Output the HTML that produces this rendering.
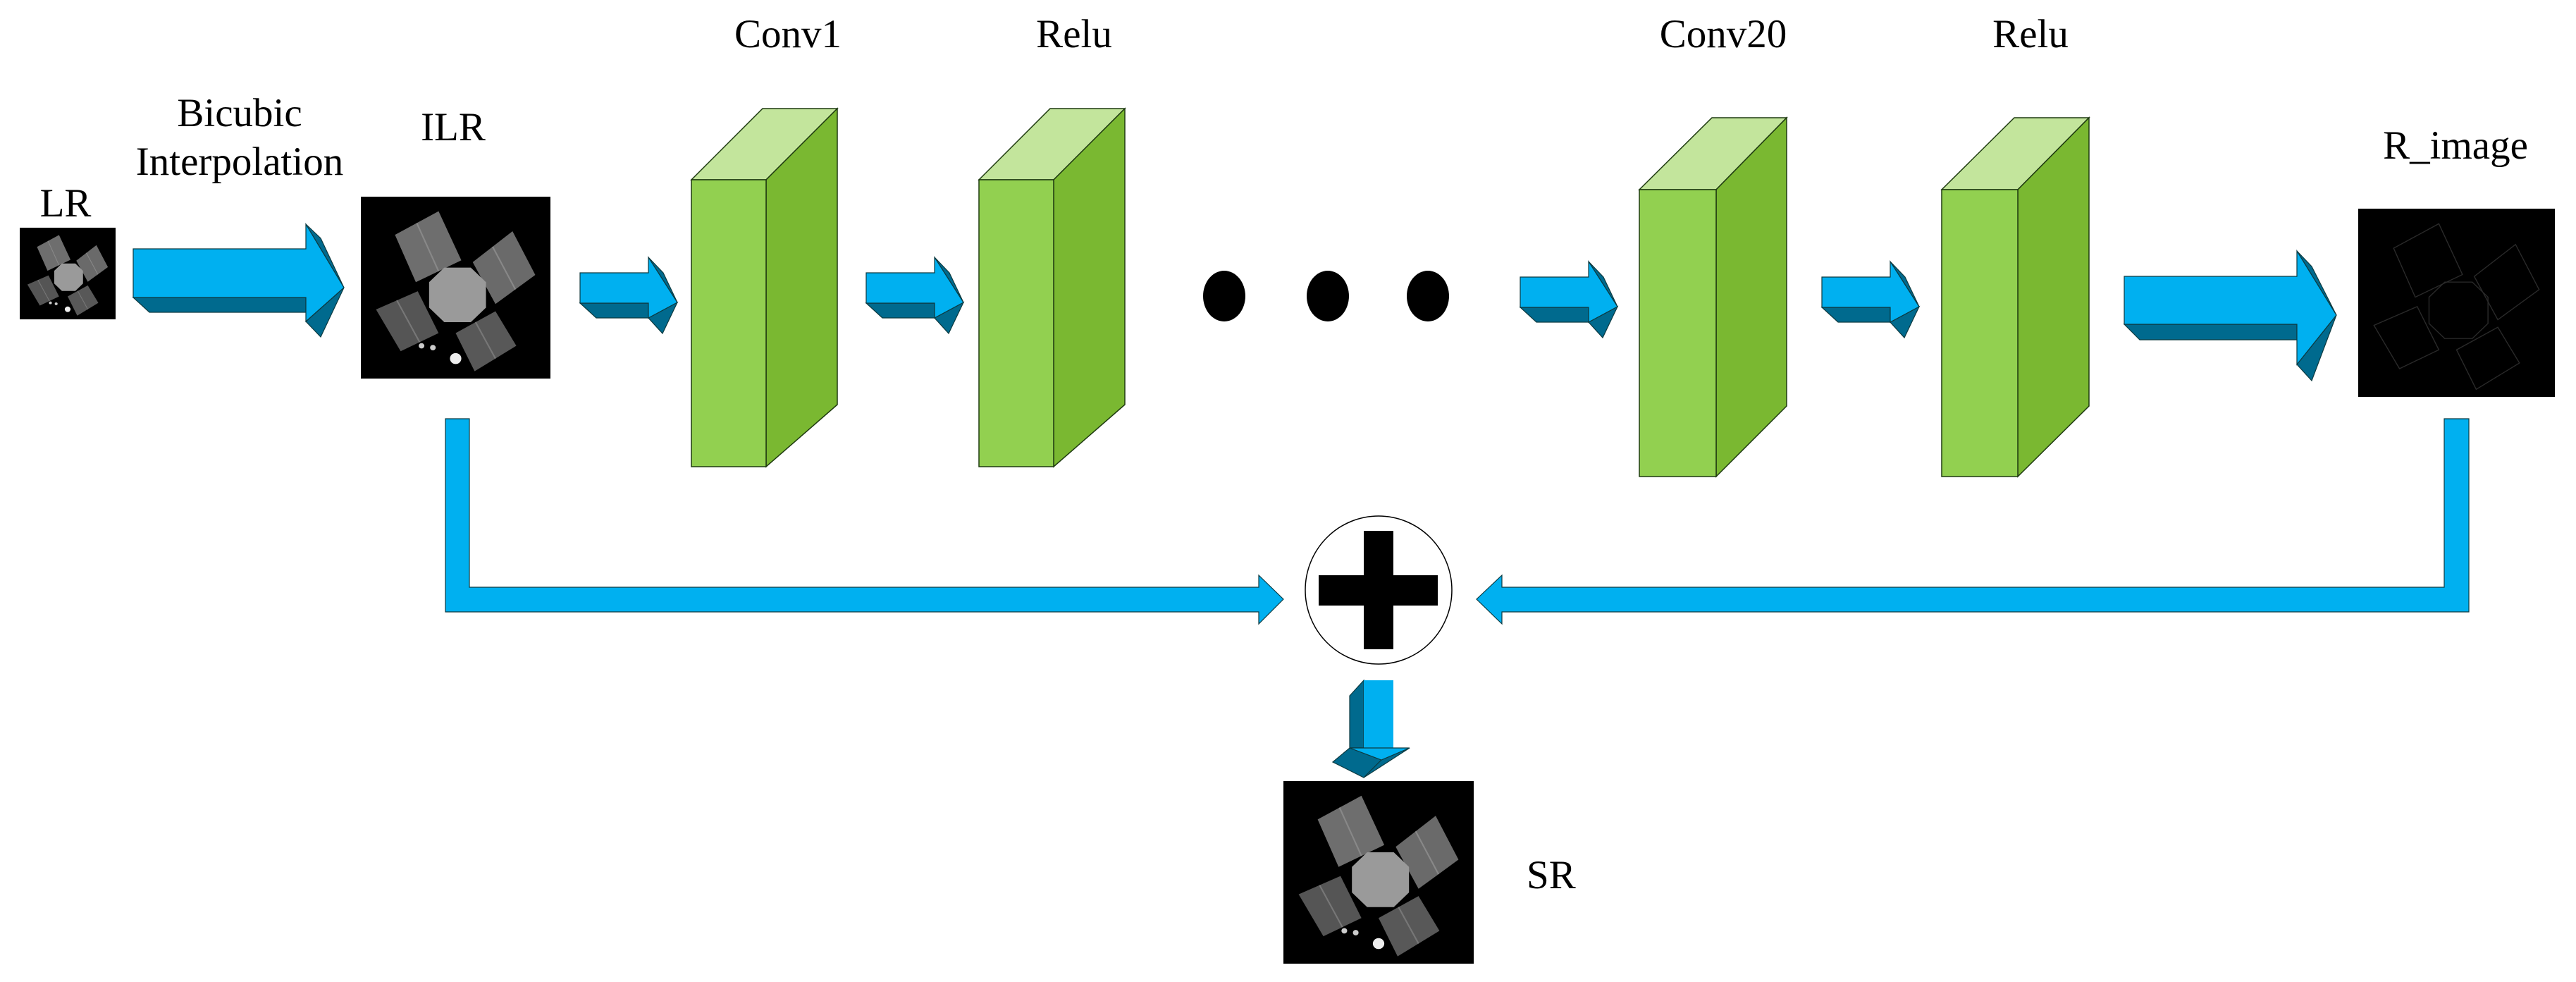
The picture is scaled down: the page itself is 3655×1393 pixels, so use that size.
<!DOCTYPE html>
<html><head><meta charset="utf-8"><style>
html,body{margin:0;padding:0;background:#fff;}
svg{display:block;}
text{font-family:"Liberation Serif",serif;font-size:57px;fill:#000;}
</style></head><body>
<svg width="3655" height="1393" viewBox="0 0 3655 1393" xmlns="http://www.w3.org/2000/svg">
<defs>
<g id="sat">
<rect x="0" y="0" width="100" height="100" fill="#000"/>
<polygon points="18,21 41,8 53,35 29,47" fill="#6e6e6e"/>
<polygon points="59,36 80,19 92,43 71,59" fill="#6a6a6a"/>
<polygon points="8,62 30,52 41,75 21,85" fill="#555"/>
<polygon points="50,75 71,63 82,82 60,96" fill="#585858"/>
<line x1="29.5" y1="14.5" x2="41" y2="41" stroke="#888" stroke-width="0.8"/>
<line x1="69.5" y1="27.5" x2="81.5" y2="51" stroke="#888" stroke-width="0.8"/>
<line x1="19" y1="57" x2="31" y2="80" stroke="#777" stroke-width="0.8"/>
<line x1="60.5" y1="69" x2="71" y2="89" stroke="#777" stroke-width="0.8"/>
<polygon points="44,39 58,39 66,47 66,61 58,69 44,69 36,61 36,47" fill="#9a9a9a"/>
<circle cx="50" cy="89" r="3" fill="#eee"/>
<circle cx="38" cy="83" r="1.5" fill="#ccc"/>
<circle cx="32" cy="82" r="1.5" fill="#ccc"/>
</g>
</defs>

<!-- labels -->
<text x="93" y="307" text-anchor="middle">LR</text>
<text x="340" y="179" text-anchor="middle">Bicubic</text>
<text x="340" y="248" text-anchor="middle">Interpolation</text>
<text x="643" y="199" text-anchor="middle">ILR</text>
<text x="1118" y="67" text-anchor="middle">Conv1</text>
<text x="1524" y="67" text-anchor="middle">Relu</text>
<text x="2445" y="67" text-anchor="middle">Conv20</text>
<text x="2881" y="67" text-anchor="middle">Relu</text>
<text x="3484" y="225" text-anchor="middle">R_image</text>
<text x="2166" y="1260">SR</text>

<!-- images -->
<use href="#sat" transform="translate(28,323) scale(1.36,1.30)"/>
<use href="#sat" transform="translate(512,279) scale(2.69,2.58)"/>
<use href="#sat" transform="translate(1821,1108) scale(2.70,2.59)"/>
<rect x="3346" y="296" width="279" height="267" fill="#000"/>
<g transform="translate(3346,296) scale(2.79,2.67)" fill="none" stroke="#2a2a2a" stroke-width="0.5">
<polygon points="18,21 41,8 53,35 29,47"/><polygon points="59,36 80,19 92,43 71,59"/>
<polygon points="8,62 30,52 41,75 21,85"/><polygon points="50,75 71,63 82,82 60,96"/>
<polygon points="44,39 58,39 66,47 66,61 58,69 44,69 36,61 36,47"/>
</g>

<!-- blocks -->
<g stroke="#1e3a10" stroke-width="1.5">
<g id="b1">
<polygon points="981,255 1082,154 1188,154 1087,255" fill="#c3e59c"/>
<polygon points="1087,255 1188,154 1188,574 1087,662" fill="#7ab831"/>
<rect x="981" y="255" width="106" height="407" fill="#92d050"/>
</g>
<polygon points="1389,255 1490,154 1596,154 1495,255" fill="#c3e59c"/>
<polygon points="1495,255 1596,154 1596,574 1495,662" fill="#7ab831"/>
<rect x="1389" y="255" width="106" height="407" fill="#92d050"/>
<polygon points="2326,269 2429,167 2535,167 2435,269" fill="#c3e59c"/>
<polygon points="2435,269 2535,167 2535,576 2435,676" fill="#7ab831"/>
<rect x="2326" y="269" width="109" height="407" fill="#92d050"/>
<polygon points="2755,269 2858,167 2964,167 2863,269" fill="#c3e59c"/>
<polygon points="2863,269 2964,167 2964,576 2863,676" fill="#7ab831"/>
<rect x="2755" y="269" width="108" height="407" fill="#92d050"/>
</g>

<!-- dots -->
<ellipse cx="1737" cy="420" rx="30" ry="36" fill="#000"/>
<ellipse cx="1884" cy="420" rx="30" ry="36" fill="#000"/>
<ellipse cx="2026" cy="420" rx="30" ry="36" fill="#000"/>

<!-- 3D arrows -->
<g stroke="#0d3a40" stroke-width="1.2">
<!-- big arrow 1 -->
<polygon points="189,422 434,422 434,443 212,443" fill="#006a8e"/>
<polygon points="434,456 488,408 455,478" fill="#006a8e"/>
<polygon points="434,318 455,338 488,408" fill="#006a8e"/>
<polygon points="189,353 434,353 434,318 488,408 434,456 434,422 189,422" fill="#00b0f0"/>
<!-- small arrows -->
<g id="sa">
<polygon points="823,430 920,430 920,451 846,451" fill="#006a8e"/>
<polygon points="920,451 961,429 940,473" fill="#006a8e"/>
<polygon points="920,365 941,387 961,429" fill="#006a8e"/>
<polygon points="823,387 920,387 920,365 961,429 920,451 920,430 823,430" fill="#00b0f0"/>
</g>
<use href="#sa" transform="translate(406,0)"/>
<use href="#sa" transform="translate(1334,6)"/>
<use href="#sa" transform="translate(1762,6)"/>
<!-- big arrow 2 -->
<polygon points="3014,460 3259,460 3259,482 3036,482" fill="#006a8e"/>
<polygon points="3259,517 3315,447 3280,540" fill="#006a8e"/>
<polygon points="3259,356 3280,378 3315,447" fill="#006a8e"/>
<polygon points="3014,392 3259,392 3259,356 3315,447 3259,517 3259,460 3014,460" fill="#00b0f0"/>
<!-- down arrow -->
<polygon points="1915,987 1935,965 1935,1061 1915,1061" fill="#006a8e"/>
<rect x="1935" y="965" width="42" height="96" fill="#00b0f0" stroke="none"/>
<polygon points="1891,1081 1915,1061 1960,1078 1935,1103" fill="#006a8e"/>
<polygon points="1960,1078 2000,1061 1935,1103" fill="#006a8e"/>
<polygon points="1915,1061 2000,1061 1960,1078" fill="#00b0f0"/>
</g>

<!-- skip connectors -->
<g fill="#00b0f0" stroke="#0d3a40" stroke-width="1.2">
<polygon points="632,594 666,594 666,833 1786,833 1786,816 1821,850 1786,885 1786,868 632,868"/>
<polygon points="3468,594 3503,594 3503,868 2131,868 2131,885 2095,850 2131,816 2131,833 3468,833"/>
</g>

<!-- plus circle -->
<ellipse cx="1956" cy="837" rx="104" ry="105" fill="#fff" stroke="#000" stroke-width="1.5"/>
<rect x="1935" y="753" width="42" height="168" fill="#000"/>
<rect x="1871" y="816" width="169" height="43" fill="#000"/>
</svg>
</body></html>
